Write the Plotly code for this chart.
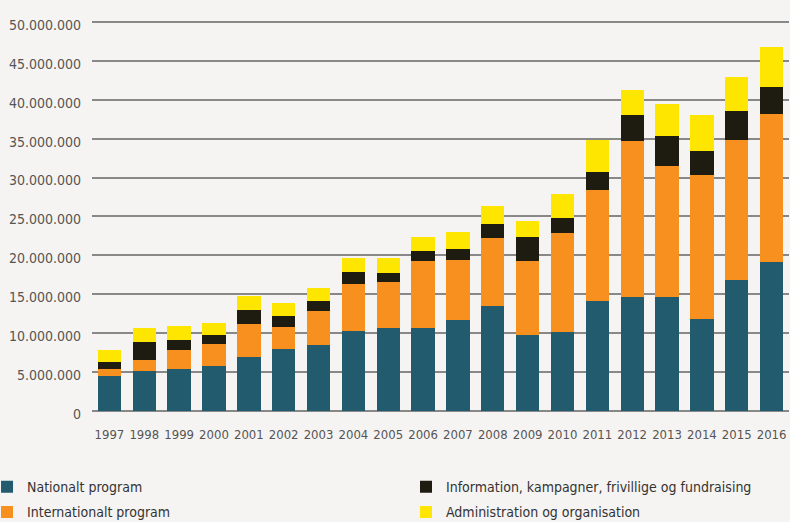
import plotly.graph_objects as go

years = [str(y) for y in range(1997, 2017)]

# segment values (kr)
nationalt = [4.54e6, 5.14e6, 5.40e6, 5.78e6, 6.94e6, 7.97e6, 8.48e6, 10.28e6, 10.67e6, 10.67e6,
             11.70e6, 13.50e6, 9.77e6, 10.15e6, 14.14e6, 14.65e6, 14.65e6, 11.83e6, 16.84e6, 19.15e6]
internationalt = [0.86e6, 1.41e6, 2.44e6, 2.83e6, 4.24e6, 2.83e6, 4.37e6, 6.04e6, 5.91e6, 8.61e6,
                  7.71e6, 8.74e6, 9.51e6, 12.73e6, 14.26e6, 20.05e6, 16.85e6, 18.50e6, 17.99e6, 19.02e6]
information = [0.90e6, 2.32e6, 1.29e6, 1.16e6, 1.80e6, 1.41e6, 1.29e6, 1.54e6, 1.16e6, 1.29e6,
               1.41e6, 1.80e6, 3.09e6, 1.93e6, 2.30e6, 3.35e6, 3.85e6, 3.09e6, 3.73e6, 3.48e6]
administration = [1.54e6, 1.80e6, 1.80e6, 1.54e6, 1.80e6, 1.67e6, 1.67e6, 1.80e6, 1.92e6, 1.80e6,
                  2.18e6, 2.31e6, 2.05e6, 3.09e6, 4.13e6, 3.21e6, 4.11e6, 4.63e6, 4.37e6, 5.14e6]

series_names = ["Nationalt program", "Internationalt program",
                "Information, kampagner, frivillige og fundraising", "Administration og organisation"]
colors = ["#225a6e", "#f7901e", "#1e1b10", "#ffe600"]
legends = ["legend", "legend", "legend2", "legend2"]

tick_vals = [0, 5e6, 10e6, 15e6, 20e6, 25e6, 30e6, 35e6, 40e6, 45e6, 50e6]
tick_text = ["0", "5.000.000", "10.000.000", "15.000.000", "20.000.000", "25.000.000",
             "30.000.000", "35.000.000", "40.000.000", "45.000.000", "50.000.000"]

FONT = "DejaVu Sans Condensed, DejaVu Sans, sans-serif"
BG = "#f5f4f2"

fig = go.Figure()
for name, vals, col, lg in zip(series_names, [nationalt, internationalt, information, administration], colors, legends):
    fig.add_trace(go.Bar(x=years, y=vals, name=name, marker=dict(color=col, line=dict(width=0)),
                         legend=lg, legendgroup=name))

fig.update_layout(
    width=790, height=522,
    barmode="stack", bargap=0.33,
    paper_bgcolor=BG, plot_bgcolor=BG,
    margin=dict(l=92, r=1, t=18, b=111, autoexpand=False),
    font=dict(family=FONT, color="#555555", size=14),
    xaxis=dict(type="category", showgrid=False, showline=False, ticks="",
               tickfont=dict(size=13, color="#555555"), ticklabelstandoff=14,
               tickangle=0, automargin=False, range=[-0.5, 19.5]),
    yaxis=dict(range=[0, 50.5e6], tickvals=tick_vals, ticktext=tick_text,
               showgrid=True, gridcolor="#888888", gridwidth=1.5,
               zeroline=True, zerolinecolor="#888888", zerolinewidth=1.5,
               showline=False, ticks="", ticklabelstandoff=10, ticklabelshift=3,
               automargin=False,
               tickfont=dict(size=14, color="#555555")),
    legend=dict(x=-0.1506, xanchor="left", y=-0.153, yanchor="top", orientation="v",
                font=dict(size=14, color="#333333", family=FONT), bgcolor="rgba(0,0,0,0)",
                tracegroupgap=4, traceorder="grouped"),
    legend2=dict(x=0.4505, xanchor="left", y=-0.153, yanchor="top", orientation="v",
                 font=dict(size=14, color="#333333", family=FONT), bgcolor="rgba(0,0,0,0)",
                 tracegroupgap=4, traceorder="grouped"),
)

fig.write_html("out.html", config={"displayModeBar": False},
               post_script="document.body.style.margin='0';document.body.style.background='#f5f4f2';")
